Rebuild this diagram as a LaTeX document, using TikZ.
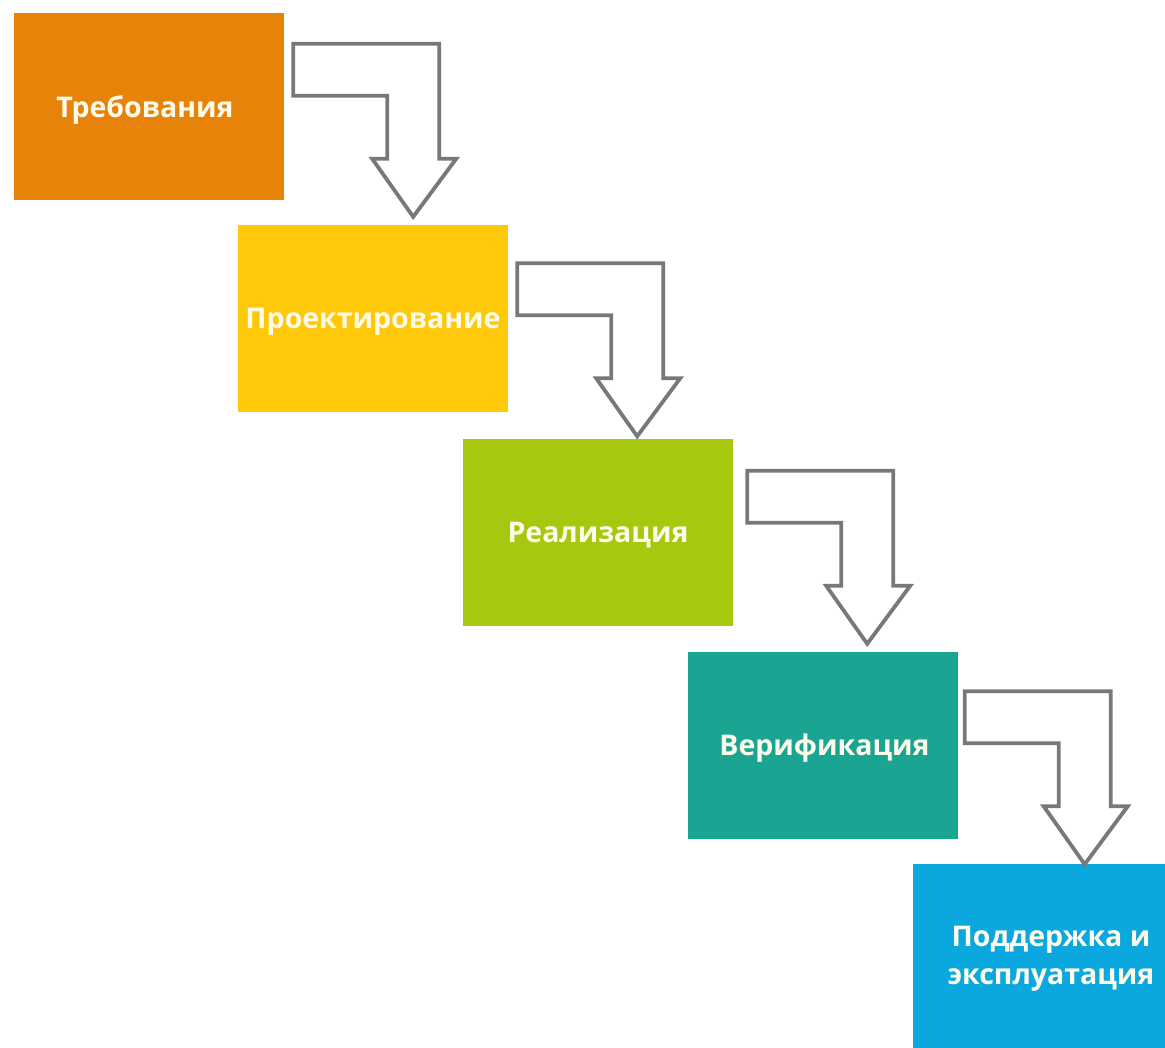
\documentclass[tikz,border=0pt]{standalone}
\usepackage{fontspec}
\setmainfont{Open Sans}
\usetikzlibrary{calc}
\definecolor{cOrange}{HTML}{E8830A}
\definecolor{cYellow}{HTML}{FFC90A}
\definecolor{cGreen}{HTML}{A6C80F}
\definecolor{cTeal}{HTML}{19A592}
\definecolor{cBlue}{HTML}{0AA8DE}
\definecolor{cGray}{HTML}{76787A}
\definecolor{cText}{HTML}{FFFBEA}
\tikzset{
  box/.style={rectangle, minimum width=270pt, minimum height=187pt, inner sep=0pt,
    text=cText, font=\fontsize{28.5}{38}\selectfont\bfseries, align=center},
  boxlabel/.style={text=cText, font=\fontsize{28.5}{38}\selectfont\bfseries, align=center, inner sep=0pt},
  arrowline/.style={draw=cGray, line width=3.8pt, line join=miter, fill=white},
  bentarrow/.pic={
    \path[arrowline] (0,0) -- (146,0) -- (146,115) -- (163,115) -- (120,173)
      -- (79,115) -- (94,115) -- (94,52) -- (0,52) -- cycle;
  }
}
\begin{document}
\begin{tikzpicture}[x=1pt,y=-1pt]
\useasboundingbox (0,0) rectangle (1165,1048);
\fill[white] (0,0) rectangle (1165,1048);
\node[box, fill=cOrange] (b1) at (149,106.5) {};
\node[box, fill=cYellow] (b2) at (373,319) {};
\node[box, fill=cGreen]  (b3) at (598,532.5) {};
\node[box, fill=cTeal]   (b4) at (822.5,745) {};
\node[box, fill=cBlue]   (b5) at (1048,957) {};
\node[boxlabel] (t1) at ($(b1.center)+(-4,3)$) {Требования};
\node[boxlabel] (t2) at ($(b2.center)+(0,3)$) {Проектирование};
\node[boxlabel] (t3) at ($(b3.center)+(0,3)$) {Реализация};
\node[boxlabel] (t4) at ($(b4.center)+(2,3)$) {Верификация};
\node[boxlabel] (t5) at ($(b5.center)+(3,2)$) {Поддержка и\\эксплуатация};
\pic at ($(b1.north east)+(9,31)$) {bentarrow};
\pic at ($(b2.north east)+(9,38)$) {bentarrow};
\pic at ($(b3.north east)+(14,32)$) {bentarrow};
\pic at ($(b4.north east)+(7,40)$) {bentarrow};
\end{tikzpicture}
\end{document}
